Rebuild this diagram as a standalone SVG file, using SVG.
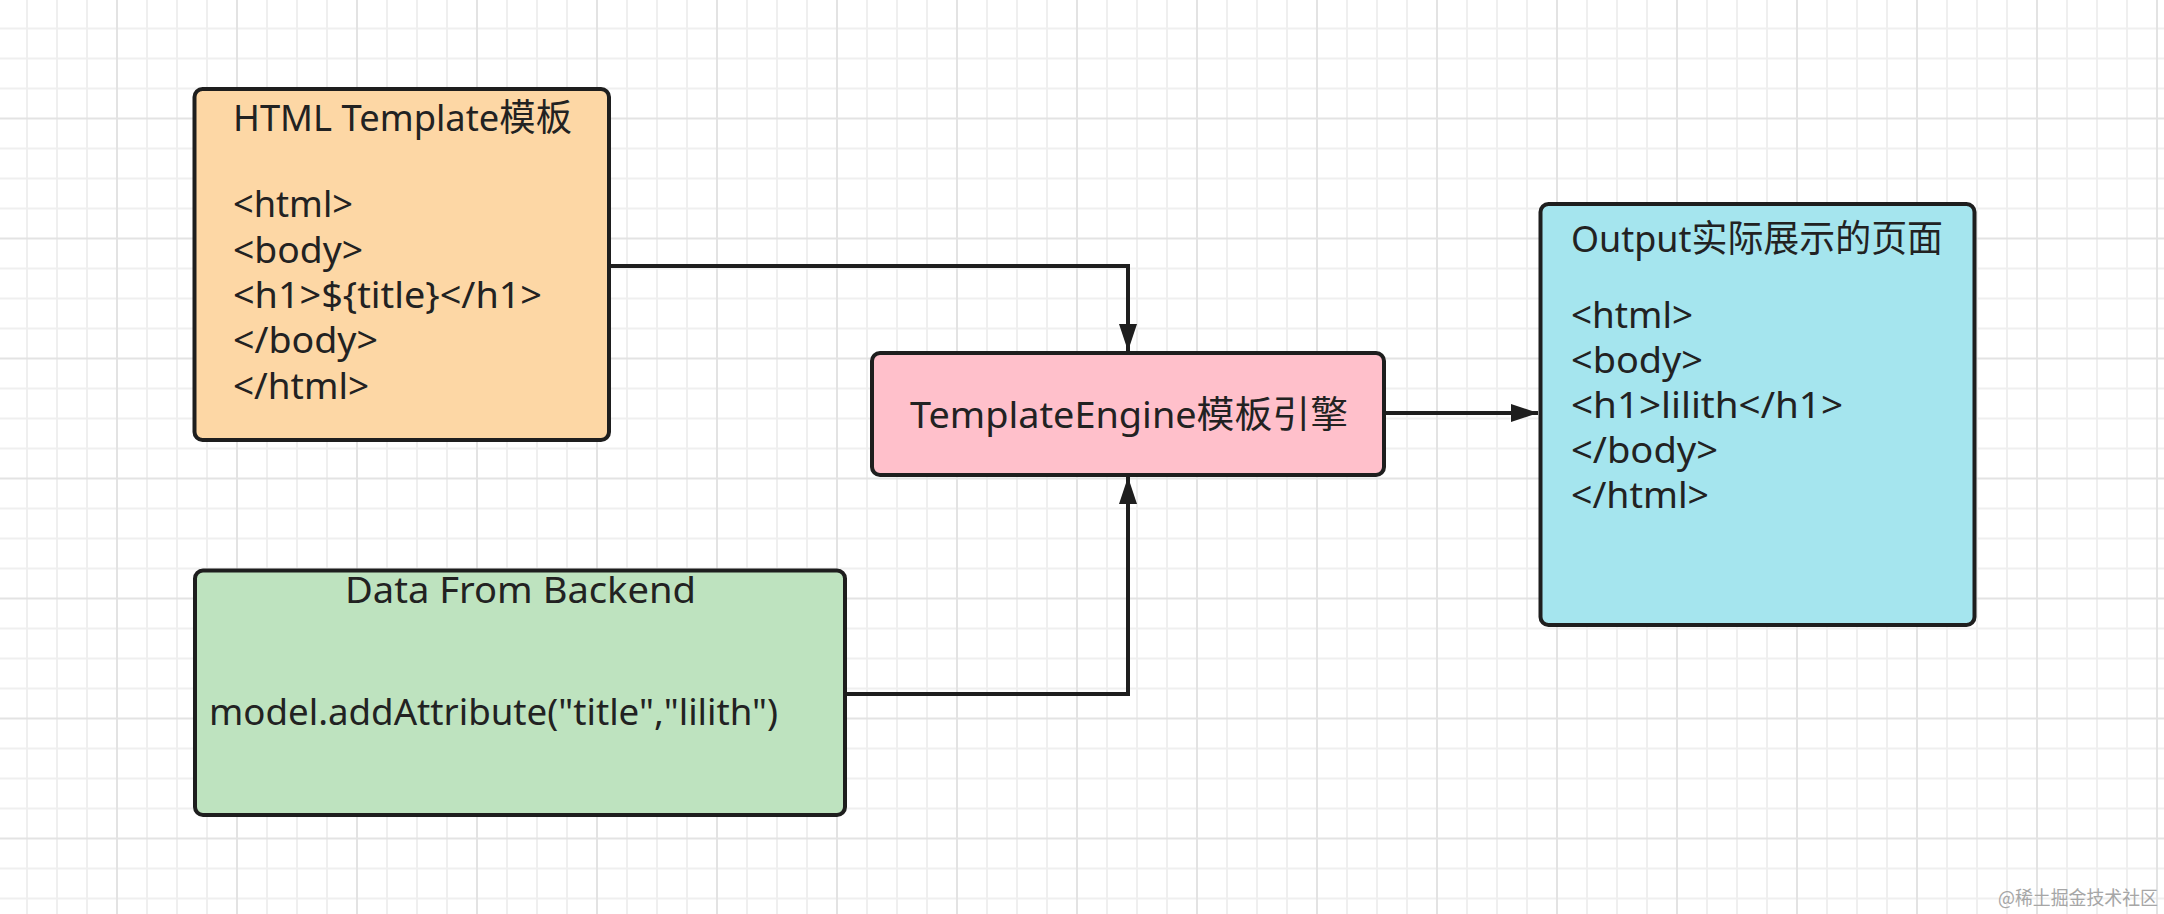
<svg xmlns="http://www.w3.org/2000/svg" width="2164" height="914" viewBox="0 0 2164 914">
  <defs>
    <pattern id="grid" patternUnits="userSpaceOnUse" x="-3" y="-1.5" width="120" height="120">
      <rect width="120" height="120" fill="#ffffff"/>
      <g fill="#efefef">
        <rect x="29" y="0" width="2" height="120"/>
        <rect x="59" y="0" width="2" height="120"/>
        <rect x="89" y="0" width="2" height="120"/>
        <rect x="0" y="29" width="120" height="2"/>
        <rect x="0" y="59" width="120" height="2"/>
        <rect x="0" y="89" width="120" height="2"/>
      </g>
      <g fill="#e3e3e3">
        <rect x="0" y="0" width="1" height="120"/>
        <rect x="119" y="0" width="1" height="120"/>
        <rect x="0" y="0" width="120" height="1"/>
        <rect x="0" y="119" width="120" height="1"/>
      </g>
    </pattern>
    <marker id="arrow" markerUnits="userSpaceOnUse" markerWidth="28" markerHeight="20" refX="27" refY="9" orient="auto">
      <path d="M0,0 L27,9 L0,18 Z" fill="#1e1e1e"/>
    </marker>
    <style>
      .box { stroke: #1e1e1e; stroke-width: 4; }
      .t { font-family: "Noto Sans", "Noto Sans CJK SC", sans-serif; font-size: 37px; fill: #222222; }
      .conn { fill: none; stroke: #1e1e1e; stroke-width: 4; }
      .wm { font-family: "Noto Sans CJK SC", "Noto Sans", sans-serif; font-size: 19px; fill: #a6a6a6; }
    </style>
  </defs>

  <rect x="0" y="0" width="2164" height="914" fill="url(#grid)"/>

  <g id="connectors">
    <path class="conn" d="M609,266 H1128 V351" marker-end="url(#arrow)"/>
    <path class="conn" d="M845,694 H1128 V477" marker-end="url(#arrow)"/>
    <path class="conn" d="M1384,413 H1538" marker-end="url(#arrow)"/>
  </g>

  <g id="html-template">
    <rect class="box" x="194.5" y="89" width="414.5" height="351" rx="8" fill="#FDD7A5"/>
    <text class="t" x="233" y="131" textLength="339" lengthAdjust="spacingAndGlyphs">HTML Template模板</text>
    <text class="t" x="233" y="217" textLength="120" lengthAdjust="spacingAndGlyphs">&lt;html&gt;</text>
    <text class="t" x="233" y="262.5" textLength="130" lengthAdjust="spacingAndGlyphs">&lt;body&gt;</text>
    <text class="t" x="233" y="308" textLength="309" lengthAdjust="spacingAndGlyphs">&lt;h1&gt;${title}&lt;/h1&gt;</text>
    <text class="t" x="233" y="353" textLength="145" lengthAdjust="spacingAndGlyphs">&lt;/body&gt;</text>
    <text class="t" x="233" y="398.5" textLength="136" lengthAdjust="spacingAndGlyphs">&lt;/html&gt;</text>
  </g>

  <g id="template-engine">
    <rect class="box" x="872" y="353" width="512" height="122" rx="8" fill="#FFC0CB"/>
    <text class="t" x="910" y="428" textLength="438" lengthAdjust="spacingAndGlyphs">TemplateEngine模板引擎</text>
  </g>

  <g id="output">
    <rect class="box" x="1540.5" y="204" width="434" height="421" rx="8" fill="#A5E5EE"/>
    <text class="t" x="1571" y="252" textLength="372" lengthAdjust="spacingAndGlyphs">Output实际展示的页面</text>
    <text class="t" x="1571" y="328" textLength="122" lengthAdjust="spacingAndGlyphs">&lt;html&gt;</text>
    <text class="t" x="1571" y="373" textLength="132" lengthAdjust="spacingAndGlyphs">&lt;body&gt;</text>
    <text class="t" x="1571" y="418" textLength="272" lengthAdjust="spacingAndGlyphs">&lt;h1&gt;lilith&lt;/h1&gt;</text>
    <text class="t" x="1571" y="463" textLength="147" lengthAdjust="spacingAndGlyphs">&lt;/body&gt;</text>
    <text class="t" x="1571" y="508" textLength="138" lengthAdjust="spacingAndGlyphs">&lt;/html&gt;</text>
  </g>

  <g id="data-from-backend">
    <rect class="box" x="195" y="570.5" width="650" height="244.5" rx="8" fill="#BEE3BF"/>
    <text class="t" x="345" y="603" textLength="351" lengthAdjust="spacingAndGlyphs">Data From Backend</text>
    <text class="t" x="209" y="725" textLength="569" lengthAdjust="spacingAndGlyphs">model.addAttribute("title","lilith")</text>
  </g>

  <text class="wm" x="1998" y="905" textLength="160" lengthAdjust="spacingAndGlyphs">@稀土掘金技术社区</text>
</svg>
